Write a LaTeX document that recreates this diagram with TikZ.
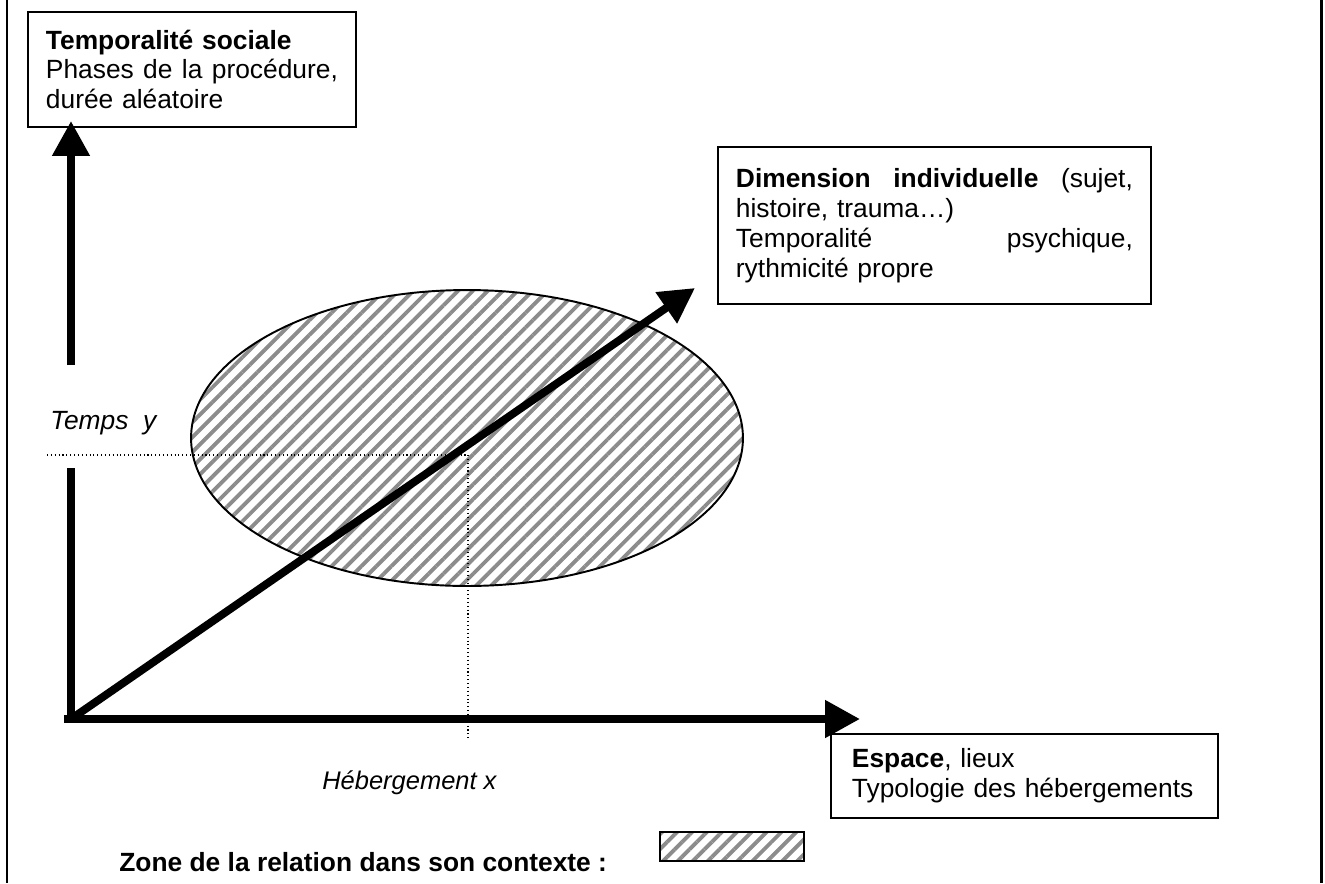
\documentclass[tikz,border=0pt]{standalone}
\usepackage{fontspec}
\setmainfont{Liberation Sans}
\usetikzlibrary{arrows.meta,patterns.meta}
\tikzset{
  box/.style={draw, line width=1.1pt, inner xsep=0.36cm, align=left, font=\fontsize{15}{17}\selectfont},
  axe/.style={line width=4.5pt, -{Triangle[length=0.7cm,width=0.72cm]}},
  pointille/.style={line width=0.6pt, dash pattern=on 0.6pt off 1.6pt},
  hachure/.style={pattern={Lines[angle=45,distance=6pt,line width=2.2pt]}, pattern color=black!45},
  etiq/.style={inner sep=0pt, font=\fontsize{15}{17}\selectfont},
}
\newcommand\ligne[2]{\leavevmode\hbox to #1{#2}}

\begin{document}
\begin{tikzpicture}[x=0.02cm, y=-0.02cm]
		%%%%% START %%%%%
		\useasboundingbox (0,0) rectangle (1325,883);
		
		\draw[line width=1.7pt] (7,0) -- (7,883);
		\draw[line width=1.7pt] (1321,0) -- (1321,883);
		
		\draw[hachure, line width=1.1pt] (467,438) ellipse [x radius=5.52cm, y radius=2.96cm];
		
		\node[box, anchor=north west, minimum width=6.56cm, minimum height=2.3cm, text width=5.84cm] (soc) at (27,11)
			{\textbf{Temporalité sociale}\\ \ligne{5.84cm}{Phases\hfill de\hfill la\hfill procédure,}\\ durée aléatoire};
		\node[box, anchor=north west, minimum width=8.66cm, minimum height=3.14cm, text width=7.94cm] (indiv) at (717,146)
			{\ligne{7.94cm}{\textbf{Dimension}\hfill\textbf{individuelle}\hfill(sujet,}\\ histoire, trauma…)\\ \ligne{7.94cm}{Temporalité\hfill psychique,}\\ rythmicité propre};
		\node[box, anchor=north west, minimum width=7.74cm, minimum height=1.68cm, text width=6.9cm, inner xsep=0.42cm] (espace) at (830,733)
			{\textbf{Espace}, lieux\\ Typologie des hébergements};
		
		\coordinate (o) at (71,719);
		\coordinate (ybas) at (71,472);
		\coordinate (yhaut) at (71,365);
		\coordinate (ty) at (71,121);
		\coordinate (tx) at (860,719);
		\coordinate (tz) at (695,288);
		\coordinate (p) at (468,455);
		
		\draw[line width=4.5pt, line cap=rect] (o) -- (ybas);
		\draw[axe] (yhaut) -- (ty);
		\draw[axe] ([xshift=-4] o) -- (tx);
		\draw[axe] (o) -- (tz);
		
		\draw[pointille] (47,455) -- (p);
		\draw[pointille] (p) -- (468,740);
		
		\node[etiq, anchor=base west] (temps) at (50,429) {\textit{Temps\ \ y}};
		\node[etiq, anchor=base west, font=\fontsize{14.5}{17}\selectfont] (heberg) at (322,789) {\textit{Hébergement x}};
		\node[etiq, anchor=base west] (zone) at (119,871) {\textbf{Zone de la relation dans son contexte :}};
		\node[draw, line width=1.1pt, hachure, anchor=north west, inner sep=0pt, minimum width=2.88cm, minimum height=0.58cm] (legende) at (659,831) {};
		
		%%%%% END %%%%%
	\end{tikzpicture}
\end{document}
